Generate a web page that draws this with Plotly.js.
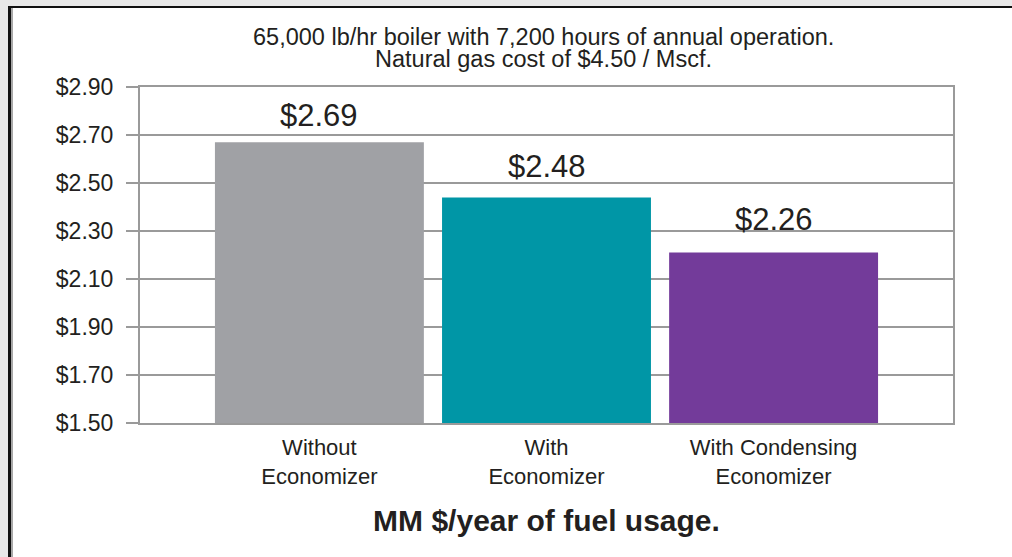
<!DOCTYPE html>
<html>
<head>
<meta charset="utf-8">
<script src="https://cdn.plot.ly/plotly-3.0.1.min.js"></script>
<style>
  html, body { margin: 0; padding: 0; background: #ffffff; }
  #wrap { position: relative; width: 1012px; height: 557px; overflow: hidden; background: #ffffff; }
  #chart { position: absolute; left: 0; top: 0; width: 1012px; height: 557px; }
  .fr { position: absolute; pointer-events: none; }
</style>
</head>
<body>
<div id="wrap">
  <div id="chart"></div>
  <div class="fr" style="left:0;top:0;width:1012px;height:6px;background:#e8e8e8;"></div>
  <div class="fr" style="left:0;top:0;width:8px;height:557px;background:#e8e8e8;"></div>
  <div class="fr" style="left:8px;top:6px;width:1004px;height:2px;background:#111;"></div>
  <div class="fr" style="left:8px;top:6px;width:3px;height:551px;background:#111;"></div>
  <div class="fr" style="left:11px;top:8px;width:2px;height:549px;background:#a8a8a8;"></div>
</div>
<script>
const categories = ["Without<br>Economizer", "With<br>Economizer", "With Condensing<br>Economizer"];
const barValues = [2.67, 2.44, 2.21];
const labelValues = [2.69, 2.48, 2.26];
const barColors = ["#a0a1a5", "#0096a6", "#733b9a"];
const tickValues = [1.5, 1.7, 1.9, 2.1, 2.3, 2.5, 2.7, 2.9];
const tickLabels = ["$1.50", "$1.70", "$1.90", "$2.10", "$2.30", "$2.50", "$2.70", "$2.90"];
const titleLines = ["65,000 lb/hr boiler with 7,200 hours of annual operation.", "Natural gas cost of $4.50 / Mscf."];
const xTitleText = "MM $/year of fuel usage.";
const axisBase = 1.5;

const font = "Liberation Sans, Arial, sans-serif";
const textColor = "#231f20";
const xIdx = categories.map((c, i) => i);

const trace = {
  type: "bar",
  x: xIdx,
  y: barValues.map(v => v - axisBase),
  base: axisBase,
  width: 0.92,
  marker: { color: barColors, line: { width: 0 } },
  hoverinfo: "skip"
};

const annotations = xIdx.map((i) => ({
  x: i, y: labelValues[i], xref: "x", yref: "y",
  text: "$" + labelValues[i].toFixed(2), showarrow: false,
  yanchor: "bottom", yshift: 2,
  font: { family: font, size: 31, color: textColor }
}));

annotations.push({
  x: 0.4957, y: 1.148, xref: "paper", yref: "paper",
  text: titleLines[0], showarrow: false, xanchor: "center", yanchor: "middle",
  borderpad: 0,
  font: { family: font, size: 23.5, color: textColor }
});
annotations.push({
  x: 0.4957, y: 1.083, xref: "paper", yref: "paper",
  text: titleLines[1], showarrow: false, xanchor: "center", yanchor: "middle",
  borderpad: 0,
  font: { family: font, size: 23.5, color: textColor }
});

const layout = {
  width: 1012, height: 557,
  margin: { l: 140, r: 59, t: 87, b: 134 },
  paper_bgcolor: "rgba(0,0,0,0)",
  plot_bgcolor: "#ffffff",
  showlegend: false,
  xaxis: {
    range: [-0.79, 2.79],
    tickmode: "array", tickvals: xIdx, ticktext: categories,
    ticks: "", showgrid: false, zeroline: false,
    showline: true, linecolor: "#9a9a9a", linewidth: 2, mirror: true,
    tickfont: { family: font, size: 22, color: textColor },
    ticklabelstandoff: 4,
    title: { text: "<b>" + xTitleText + "</b>", standoff: 22,
             font: { family: font, size: 30, color: textColor } }
  },
  yaxis: {
    range: [1.5, 2.9],
    tickmode: "array", tickvals: tickValues, ticktext: tickLabels,
    ticks: "outside", ticklen: 12, tickwidth: 2, tickcolor: "#9a9a9a",
    showgrid: true, gridcolor: "#9a9a9a", gridwidth: 2,
    zeroline: false,
    showline: true, linecolor: "#9a9a9a", linewidth: 2, mirror: true,
    tickfont: { family: font, size: 23, color: textColor },
    ticklabelstandoff: 8
  },
  annotations: annotations
};

Plotly.newPlot("chart", [trace], layout, { displayModeBar: false, staticPlot: true });
</script>
</body>
</html>
